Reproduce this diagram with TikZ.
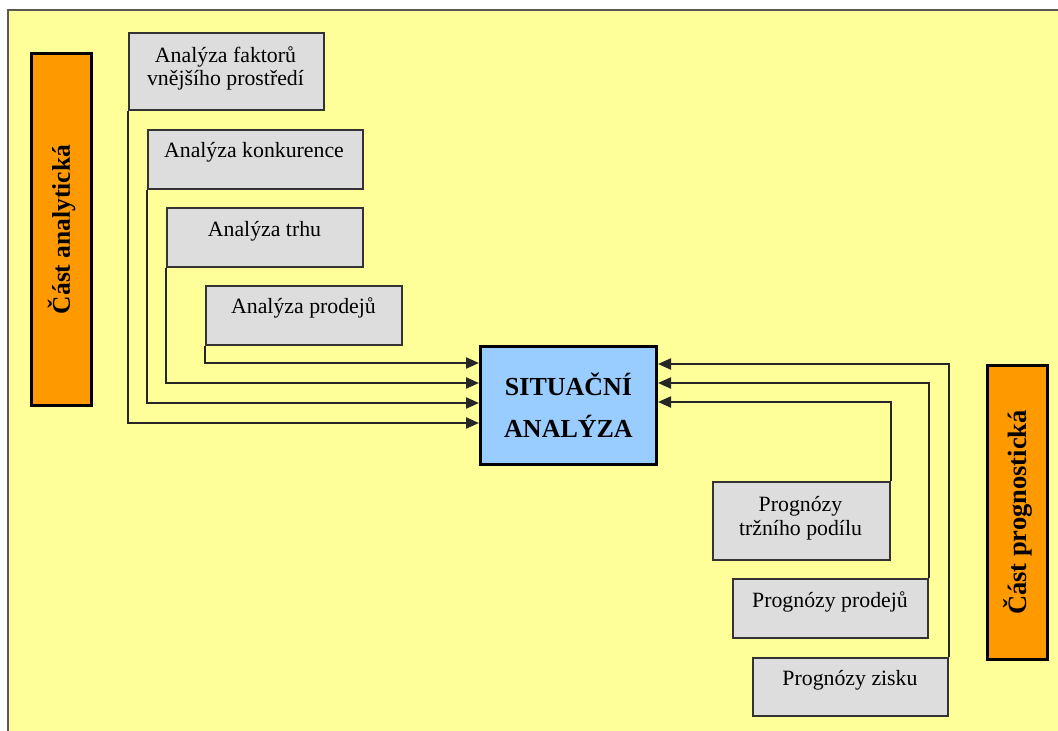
\documentclass[tikz,border=0pt]{standalone}
\usepackage{fontspec}
\setmainfont{Liberation Serif}
\usetikzlibrary{arrows.meta}
\definecolor{bgyellow}{HTML}{FFFF99}
\definecolor{boxgray}{HTML}{DDDDDD}
\definecolor{sitblue}{HTML}{99CCFF}
\definecolor{barorange}{HTML}{FF9900}
\tikzset{
  box/.style={draw=black!80, line width=2pt, fill=boxgray, anchor=north west, inner sep=0pt},
  lbl/.style={anchor=base, inner sep=0pt, font=\fontsize{21.8}{24}\selectfont},
  bar/.style={draw=black, line width=3pt, fill=barorange, anchor=north west, inner sep=0pt},
  bartext/.style={rotate=90, inner sep=0pt, font=\bfseries\fontsize{25.5}{28}\selectfont},
  arr/.style={draw=black!85, line width=2.2pt, -{Triangle[length=13pt,width=11pt]}}
}
\begin{document}
\begin{tikzpicture}[x=1pt,y=-1pt]
\useasboundingbox (0,0) rectangle (1058,731);
\fill[white] (0,0) rectangle (1058,731);
\draw[draw=black!65, line width=1.6pt, fill=bgyellow] (8,10) rectangle (1064,737);

% side bars
\node[bar, minimum width=60, minimum height=352] (barL) at (30,52) {};
\node[bartext] (barLt) at (barL.center) {Část analytická};
\node[bar, minimum width=60, minimum height=294] (barR) at (986,364) {};
\node[bartext, font=\bfseries\fontsize{26.5}{28}\selectfont] (barRt) at (barR.center) {Část prognostická};

% central box
\node[draw=black, line width=3pt, fill=sitblue, minimum width=176, minimum height=118, anchor=north west, inner sep=0pt, align=center, font=\bfseries\fontsize{26}{42}\selectfont] (sit) at (479,345) {SITUAČNÍ\\ANALÝZA};

% analysis boxes
\node[box, minimum width=195, minimum height=77] (b1) at (128,32) {};
\node[lbl] (b1a) at (225.5,62) {Analýza faktorů};
\node[lbl] (b1b) at (225.5,85) {vnějšího prostředí};
\node[box, minimum width=215, minimum height=59] (b2) at (147,129) {};
\node[lbl] (b2a) at (254,157) {Analýza konkurence};
\node[box, minimum width=196, minimum height=59] (b3) at (166,207) {};
\node[lbl] (b3a) at (264.5,236) {Analýza trhu};
\node[box, minimum width=196, minimum height=59] (b4) at (205,285) {};
\node[lbl] (b4a) at (303.5,313) {Analýza prodejů};

% prognosis boxes
\node[box, minimum width=177, minimum height=78] (p1) at (712,481) {};
\node[lbl] (p1a) at (800.5,511) {Prognózy};
\node[lbl] (p1b) at (800.5,535) {tržního podílu};
\node[box, minimum width=195, minimum height=59] (p2) at (732,578) {};
\node[lbl] (p2a) at (830,607) {Prognózy prodejů};
\node[box, minimum width=195, minimum height=58] (p3) at (752,657) {};
\node[lbl] (p3a) at (850,685) {Prognózy zisku};

% connectors
\draw[arr] (b4.south west) |- (sit.west |- 0,363);
\draw[arr] (b3.south west) |- (sit.west |- 0,383);
\draw[arr] (b2.south west) |- (sit.west |- 0,403);
\draw[arr] (b1.south west) |- (sit.west |- 0,423);
\draw[arr] (p1.north east) |- (sit.east |- 0,402);
\draw[arr] (p2.north east) |- (sit.east |- 0,383);
\draw[arr] (p3.north east) |- (sit.east |- 0,364);
\end{tikzpicture}
\end{document}
